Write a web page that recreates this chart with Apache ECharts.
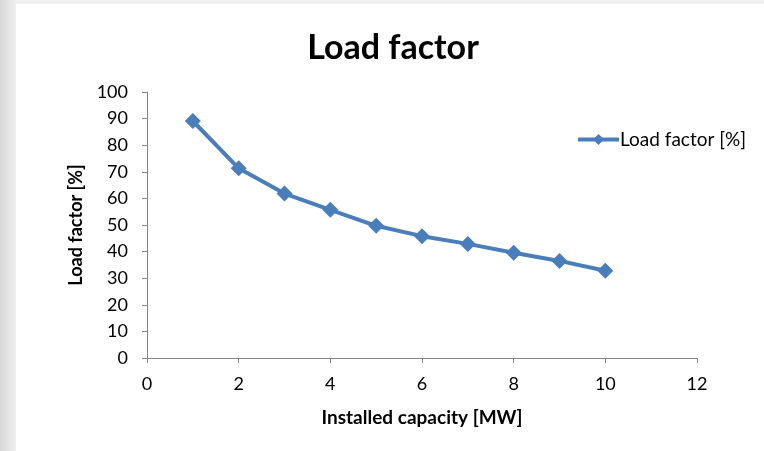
<!DOCTYPE html>
<html><head><meta charset="utf-8">
<script src="https://cdn.jsdelivr.net/npm/echarts@6/dist/echarts.min.js"></script>
<style>
html,body{margin:0;padding:0;width:764px;height:451px;overflow:hidden;background:linear-gradient(90deg,#d9d9d9 0px,#efefef 16px);}
#frame{position:absolute;left:16px;top:4px;width:748px;height:447px;background:#fff;}
#c{position:absolute;left:0;top:0;width:764px;height:451px;}
</style></head>
<body><div id="frame"></div><div id="c"></div>
<script>
const capacity = [1, 2, 3, 4, 5, 6, 7, 8, 9, 10];
const loadFactor = [89.1, 71.3, 61.8, 55.7, 49.7, 45.8, 42.9, 39.6, 36.5, 32.8];
const seriesName = 'Load factor [%]';
const chart = echarts.init(document.getElementById('c'));
const font = 'Lato, "Open Sans", sans-serif';
chart.setOption({
  backgroundColor: 'transparent',
  animation: false,
  title: {text: 'Load factor', left: 388, top: 26, textAlign: 'center',
    textStyle: {fontFamily: font, fontSize: 34, fontWeight: 'bold', color: '#000'}},
  legend: {left: 571, top: 125, itemWidth: 41, itemHeight: 14, itemGap: 4,
    lineStyle: {width: 4},
    textStyle: {fontFamily: font, fontSize: 19, color: '#000', padding: [0,0,0,-4]},
    data: [{name: seriesName}]},
  grid: {left: 147, right: 67, top: 92, bottom: 93},
  xAxis: {type: 'value', min: 0, max: 12, interval: 2,
    name: 'Installed capacity [MW]', nameLocation: 'middle', nameGap: 50,
    nameTextStyle: {fontFamily: font, fontSize: 19, fontWeight: 'bold', color: '#000'},
    axisLine: {lineStyle: {color: '#868686', width: 1}},
    axisTick: {length: 5, lineStyle: {color: '#868686'}},
    axisLabel: {fontFamily: font, fontSize: 18, color: '#000', margin: 17},
    splitLine: {show: false}},
  yAxis: {type: 'value', min: 0, max: 100, interval: 10,
    name: 'Load factor [%]', nameLocation: 'middle', nameGap: 62, nameRotate: 90,
    nameTextStyle: {fontFamily: font, fontSize: 18, fontWeight: 'bold', color: '#000'},
    axisLine: {show: true, lineStyle: {color: '#868686', width: 1}},
    axisTick: {show: true, length: 5, lineStyle: {color: '#868686'}},
    axisLabel: {fontFamily: font, fontSize: 18, color: '#000', margin: 19},
    splitLine: {show: false}},
  series: [{
    name: seriesName, type: 'line',
    data: capacity.map((x, i) => [x, loadFactor[i]]),
    symbol: 'diamond', symbolSize: 16,
    lineStyle: {color: '#4a7ebb', width: 4},
    itemStyle: {color: '#4a7ebb'}
  }]
});
</script></body></html>
